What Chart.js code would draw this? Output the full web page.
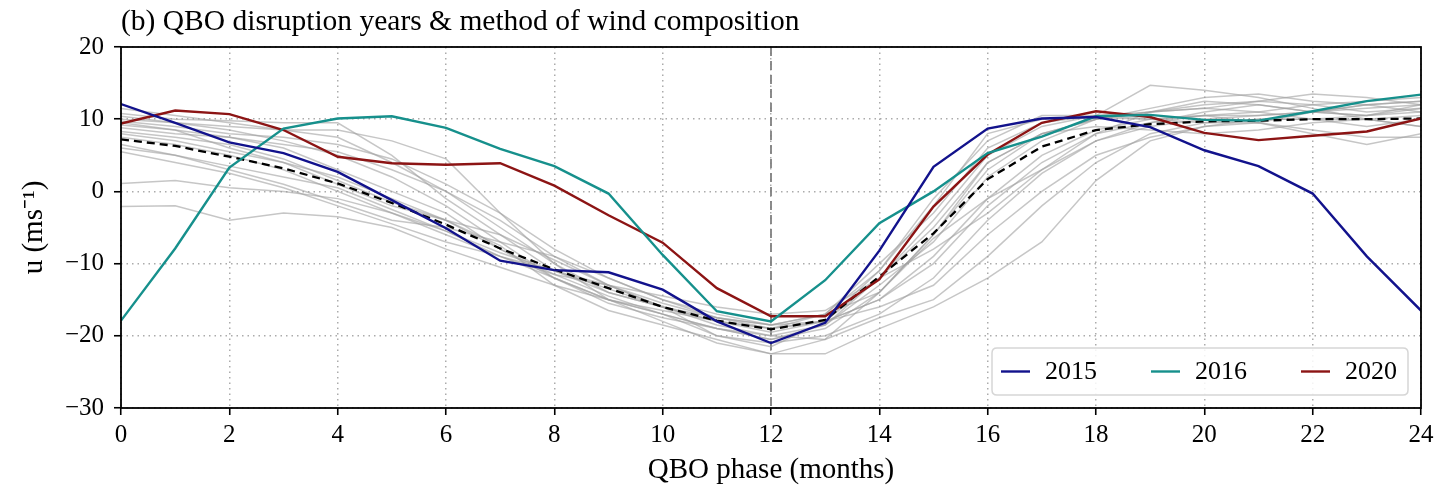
<!DOCTYPE html>
<html><head><meta charset="utf-8">
<script src="https://cdn.jsdelivr.net/npm/chart.js@4"></script>
<style>html,body{margin:0;padding:0;background:#fff}#wrap{width:1435px;height:493px}</style>
</head><body><div id="wrap"><canvas id="c" width="1435" height="493"></canvas></div>
<script>
const titleText = "(b) QBO disruption years & method of wind composition";
const xTitle = "QBO phase (months)";
const yTitle = "u (ms\u207B\u00B9)";
const phases = [0,1,2,3,4,5,6,7,8,9,10,11,12,13,14,15,16,17,18,19,20,21,22,23,24];
const xTicks = [0,2,4,6,8,10,12,14,16,18,20,22,24];
const yTicks = [-30,-20,-10,0,10,20];
const legendYears = ["2015","2016","2020"];

const u2015 = [12.1,9.5,6.8,5.3,2.7,-1.2,-5.1,-9.6,-10.9,-11.2,-13.6,-18.0,-21.0,-18.2,-8.2,3.4,8.7,10.1,10.3,8.9,5.7,3.5,-0.3,-9.0,-16.5];
const u2016 = [-17.9,-7.9,3.3,8.7,10.1,10.4,8.8,5.9,3.5,-0.3,-8.8,-16.6,-18.0,-12.3,-4.4,0.0,5.3,7.6,10.4,10.6,9.9,9.8,11.1,12.5,13.4];
const u2020 = [9.4,11.2,10.7,8.5,4.8,3.9,3.7,3.9,0.8,-3.3,-7.1,-13.4,-17.3,-17.3,-12.2,-2.1,5.1,9.5,11.1,10.3,8.1,7.1,7.7,8.3,10.1];
const uMean = [7.2,6.3,4.8,3.2,1.1,-1.6,-4.6,-7.9,-10.8,-13.4,-16.0,-17.9,-19.1,-17.8,-11.8,-5.8,1.7,6.2,8.5,9.3,9.7,9.8,10.0,10.0,10.1];

const g1  = [11.5,10.5,9.5,8.5,7.5,4,0,-4,-9,-13,-16,-18,-19.5,-18,-12,-4,5,9,10.5,11,12,12.5,12,11,11.5];
const g2  = [10.8,10,9.8,9.5,9.5,5,-1,-6,-11,-14,-16,-17.5,-18.5,-17,-11,-2,8,10,10.2,10,10.5,11,10,10.5,12];
const g3  = [10.4,9.5,8.5,7,5,2,-2,-7,-12,-15,-17,-19,-20.5,-19,-14,-6,3,8,10,11.5,13,13.5,12.5,12,12.5];
const g4  = [9.7,9,8,7.5,6.5,4.5,1,-3,-8,-12,-15,-17.5,-19,-17,-10,-3,6,9.5,10.5,14.7,14,13,11.5,10,9];
const g5  = [9.2,8.5,7.5,6,3,0,-3,-8,-12,-15.5,-17.5,-19,-20,-18.5,-13,-7,2,7,10,11,11.5,12.5,13.5,13,12];
const g6  = [8.8,8,7.5,6.5,5.5,3,0,-5,-10,-14,-16,-18,-19,-18,-15,-10,-2,4,8,9.5,11,12,11,10.5,11.5];
const g7  = [8.3,7.5,6.5,4.5,1.5,-1.5,-4,-6,-9.5,-13,-16,-20,-21,-20,-17,-12,-4,2.5,7,9,10,10.5,11,12,12.5];
const g8  = [6.0,5,3.5,2,0.5,-2.5,-5.5,-9,-12,-15,-17,-19,-20.5,-18.5,-12,-5,4,8,9,8.5,8,8.5,9.5,10,10.5];
const g9  = [5.5,4,2.5,0.5,-2,-4.5,-7,-9,-11.5,-13,-14.5,-16,-17,-16.5,-12,-8,-3,3,8,11,12.5,12,11,10.5,11];
const g10 = [1.1,1.5,0.5,0,-1,-3,-6,-9,-11,-13,-15.5,-17.5,-18.5,-18,-16,-13,-6,0,5,7.5,9,9.5,8,6.5,8];
const g11 = [-2.1,-2,-4,-3,-3.5,-5,-8,-10.5,-13,-15,-16.5,-18,-19,-18,-15,-9,-1,5,8.5,10,10.5,10.5,11,11.5,12];
const g12 = [10,9.5,9,8.5,8.5,7,4.5,-3,-10,-15,-18,-21,-22.5,-20.5,-14,-6,4,8,10,11,11.5,11,12,12.5,13];
const g13 = [7.5,6.5,5,3,0,-3,-5.5,-8.5,-11,-13.5,-16,-18.5,-20,-20.5,-17.5,-15,-9,-2,4,8,9.5,10,10,9,10];
const g14 = [6.5,5,3,1,-1.5,-4,-5,-7,-9,-12,-15,-17,-18.5,-17,-14,-6.5,-1,3,7,9.5,10.5,9.5,8.5,7.5,7.5];
const g15 = [9.5,8.5,6,4,2,-1,-4,-7.5,-13,-16.5,-18.5,-20.5,-22.5,-22.5,-19,-16,-12,-7,1.5,7,9,10,10,10,9];
const g16 = [8,7,5.5,4,1,-2,-4,-8,-11.5,-14.5,-17,-20,-21.5,-18,-11,-1,7,10.5,10.5,10,9.5,9.5,11,12,11];
const grayYears = [g1,g2,g3,g4,g5,g6,g7,g8,g9,g10,g11,g12,g13,g14,g15,g16];

const SERIF = "'Liberation Serif', 'Times New Roman', serif";
const colors = {"2015":"#12128c","2016":"#16908c","2020":"#8c1414"};

const pts = arr => arr.map((v,i)=>({x:phases[i], y:v}));

const datasets = [];
grayYears.forEach((g,i)=>datasets.push({label:'g'+i, data:pts(g), borderColor:'rgba(160,160,160,0.6)', borderWidth:1.5, pointRadius:0, order:3, tension:0}));
datasets.push({label:'mean', data:pts(uMean), borderColor:'#000', borderWidth:2.3, borderDash:[8,5], pointRadius:0, order:2});
datasets.push({label:'2015', data:pts(u2015), borderColor:colors["2015"], borderWidth:2.4, pointRadius:0, order:1});
datasets.push({label:'2016', data:pts(u2016), borderColor:colors["2016"], borderWidth:2.4, pointRadius:0, order:1});
datasets.push({label:'2020', data:pts(u2020), borderColor:colors["2020"], borderWidth:2.4, pointRadius:0, order:1});

const decor = {
  id:'decor',
  beforeDatasetsDraw(chart){
    const {ctx, chartArea:a, scales:{x}} = chart;
    const px = x.getPixelForValue(12);
    ctx.save();
    ctx.strokeStyle = '#808080'; ctx.lineWidth = 1.8; ctx.setLineDash([9,5]);
    ctx.beginPath(); ctx.moveTo(px, a.top); ctx.lineTo(px, a.bottom); ctx.stroke();
    ctx.restore();
  },
  afterDraw(chart){
    const {ctx, chartArea:a} = chart;
    ctx.save();
    ctx.strokeStyle = '#000'; ctx.lineWidth = 1.8; ctx.setLineDash([]);
    ctx.strokeRect(a.left, a.top, a.right - a.left, a.bottom - a.top);
    ctx.fillStyle = '#000'; ctx.font = "29.5px " + SERIF; ctx.textBaseline = 'alphabetic'; ctx.textAlign = 'left';
    ctx.fillText(titleText, a.left, 30);
    const bx = 992, by = 348, bw = 416, bh = 47, r = 5;
    ctx.beginPath();
    ctx.moveTo(bx+r, by); ctx.lineTo(bx+bw-r, by); ctx.quadraticCurveTo(bx+bw, by, bx+bw, by+r);
    ctx.lineTo(bx+bw, by+bh-r); ctx.quadraticCurveTo(bx+bw, by+bh, bx+bw-r, by+bh);
    ctx.lineTo(bx+r, by+bh); ctx.quadraticCurveTo(bx, by+bh, bx, by+bh-r);
    ctx.lineTo(bx, by+r); ctx.quadraticCurveTo(bx, by, bx+r, by); ctx.closePath();
    ctx.fillStyle = 'rgba(255,255,255,0.85)'; ctx.fill();
    ctx.strokeStyle = '#d6d6d6'; ctx.lineWidth = 1.5; ctx.stroke();
    const cy = by + bh/2;
    const starts = [1001, 1151, 1301];
    legendYears.forEach((yr, i)=>{
      const sx = starts[i];
      ctx.strokeStyle = colors[yr]; ctx.lineWidth = 2.4;
      ctx.beginPath(); ctx.moveTo(sx, cy); ctx.lineTo(sx+29, cy); ctx.stroke();
      ctx.fillStyle = '#000'; ctx.font = "26px " + SERIF; ctx.textBaseline = 'middle';
      ctx.fillText(yr, sx+44, cy+1);
    });
    ctx.restore();
  }
};

new Chart(document.getElementById('c'), {
  type:'line',
  data:{datasets},
  plugins:[decor],
  options:{
    responsive:false, animation:false, devicePixelRatio:1,
    layout:{padding:{top:47, right:14, left:0, bottom:0}},
    plugins:{legend:{display:false}, tooltip:{enabled:false}, title:{display:false}},
    scales:{
      x:{type:'linear', min:0, max:24,
        afterFit(s){ s.height = 85; s.paddingLeft = 0; s.paddingRight = 0; },
        afterBuildTicks(s){ s.ticks = xTicks.map(v=>({value:v})); },
        ticks:{font:{family:SERIF, size:25}, color:'#000', padding:5, maxRotation:0, autoSkip:false},
        grid:{color:'#ababab', lineWidth:1.5, tickColor:'#000', tickLength:7, tickWidth:1.6, tickBorderDash:[]},
        border:{display:false, dash:[1.5,4]},
        title:{display:true, text:xTitle, font:{family:SERIF, size:29}, color:'#000', padding:{top:0, bottom:5}}
      },
      y:{type:'linear', min:-30, max:20,
        afterFit(s){ s.width = 121; s.paddingTop = 0; s.paddingBottom = 0; },
        afterBuildTicks(s){ s.ticks = yTicks.map(v=>({value:v})); },
        ticks:{font:{family:SERIF, size:25}, color:'#000', padding:10, callback:v=> v<0 ? '\u2212'+Math.abs(v) : String(v)},
        grid:{color:'#ababab', lineWidth:1.5, tickColor:'#000', tickLength:7, tickWidth:1.6, tickBorderDash:[]},
        border:{display:false, dash:[1.5,4]},
        title:{display:true, text:yTitle, font:{family:SERIF, size:29}, color:'#000', padding:{top:17, bottom:0}}
      }
    }
  }
});
</script></body></html>
